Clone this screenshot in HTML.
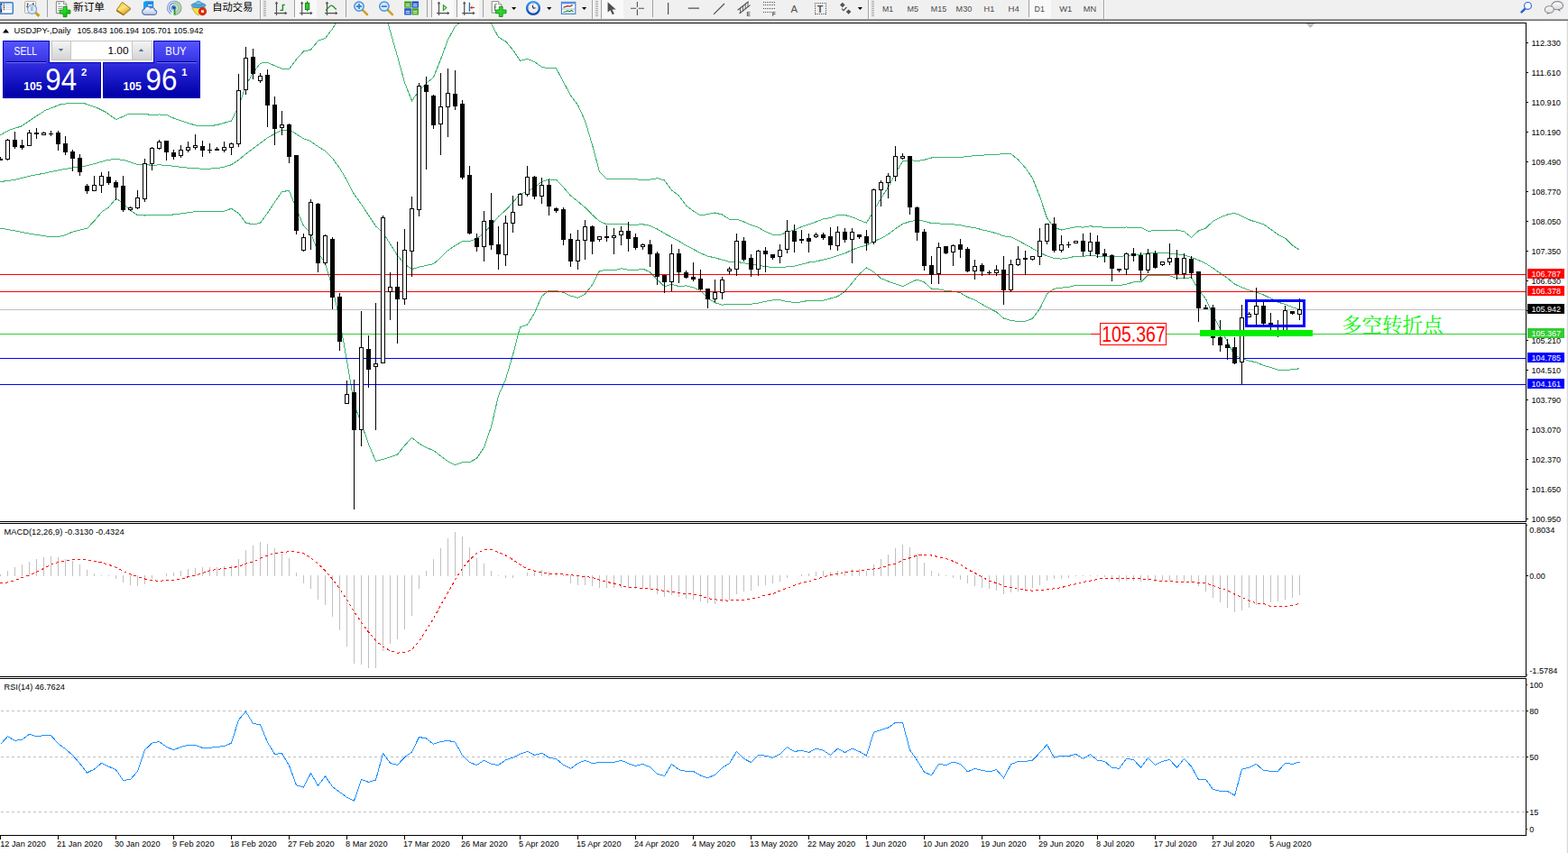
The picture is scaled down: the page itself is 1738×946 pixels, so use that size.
<!DOCTYPE html>
<html><head><meta charset="utf-8"><title>USDJPY Daily</title>
<style>
html,body{margin:0;padding:0;background:#fff}
body{width:1738px;height:946px;overflow:hidden;position:relative}
svg{position:absolute;left:0;top:0;display:block}
text{font-family:"Liberation Sans",sans-serif}
</style></head><body>
<svg width="1738" height="946" viewBox="0 0 1738 946">
<rect x="0" y="0" width="1738" height="946" fill="#fff"/>
<g shape-rendering="crispEdges">
<rect x="0" y="25" width="1692" height="1" fill="#000"/>
<rect x="1691" y="25" width="1" height="554" fill="#000"/>
<rect x="0" y="578" width="1692" height="1" fill="#000"/>
<rect x="0" y="580" width="1692" height="1" fill="#000"/>
<rect x="1691" y="580" width="1" height="171" fill="#000"/>
<rect x="0" y="750" width="1692" height="1" fill="#000"/>
<rect x="0" y="752" width="1692" height="1" fill="#000"/>
<rect x="1691" y="752" width="1" height="175" fill="#000"/>
<rect x="0" y="926" width="1692" height="1" fill="#000"/>
<rect x="1737" y="22" width="1" height="924" fill="#d9d9d9"/>
<rect x="1736" y="22" width="1" height="924" fill="#f4f4f4"/>
</g>
<g shape-rendering="crispEdges">
<rect x="0" y="343" width="1691" height="1" fill="#c0c0c0"/>
</g>
<path d="M1448 26h9v1h-9zM1449 27h7v1h-7zM1450 28h5v1h-5zM1451 29h3v1h-3zM1452 30h1v1h-1z" fill="#c0c0c0" shape-rendering="crispEdges"/>
<clipPath id="cm"><rect x="0" y="26" width="1691" height="552"/></clipPath>
<g clip-path="url(#cm)" fill="none" stroke="#3cb371" stroke-width="1" shape-rendering="crispEdges">
<polyline points="0.0,150.1 10.0,144.3 23.4,140.1 33.4,133.4 50.1,122.5 66.8,115.9 78.5,114.2 93.5,114.7 106.9,119.2 116.9,124.2 128.6,132.6 142.0,126.7 152.5,126.2 160.5,126.4 168.5,127.6 176.5,127.0 184.5,127.5 192.5,131.0 200.5,133.8 208.5,136.5 216.5,138.9 224.5,139.9 232.5,139.7 240.5,138.6 248.5,136.3 256.5,134.0 264.5,118.2 272.5,94.6 280.5,80.7 288.5,70.1 296.5,69.4 304.5,72.9 312.5,76.2 320.5,76.6 328.5,65.7 336.5,57.0 344.5,55.1 352.5,45.3 360.5,42.4 368.5,32.1 376.5,18.2 384.5,-0.3 392.5,-17.3 400.5,-16.5 408.5,-14.9 416.5,-9.6 424.5,6.6 432.5,34.5 440.5,62.4 448.5,91.6 456.5,111.8 464.5,100.7 472.5,92.3 480.5,85.8 488.5,65.9 496.5,44.0 504.5,29.3 512.5,22.5 520.5,22.4 528.5,21.2 536.5,20.1 544.5,26.3 552.5,41.3 560.5,45.8 568.5,55.4 576.5,67.3 584.5,65.4 592.5,68.5 600.5,74.3 608.5,75.9 616.5,75.9 624.5,90.9 632.5,105.9 640.5,116.4 648.5,134.0 656.5,160.6 664.5,190.5 672.5,198.2 680.5,198.2 688.5,198.5 696.5,198.9 704.5,198.8 712.5,199.4 720.5,199.1 728.5,197.7 736.5,200.0 744.5,211.0 752.5,217.0 760.5,227.9 768.5,234.0 776.5,239.0 784.5,237.5 792.5,236.0 800.5,238.0 808.5,243.1 816.5,243.1 824.5,246.0 832.5,249.6 840.5,252.3 848.5,256.8 856.5,260.2 864.5,260.7 872.5,257.3 880.5,255.1 888.5,251.6 896.5,248.9 904.5,246.0 912.5,242.9 920.5,241.5 928.5,238.6 936.5,238.5 944.5,240.6 952.5,244.2 960.5,247.2 968.5,233.6 976.5,220.1 984.5,207.6 992.5,192.3 1000.5,179.0 1008.5,177.7 1016.5,178.5 1024.5,177.3 1032.5,175.0 1040.5,174.9 1048.5,174.6 1056.5,174.6 1064.5,174.6 1072.5,173.4 1080.5,172.7 1088.5,172.2 1096.5,171.5 1104.5,171.6 1112.5,170.4 1120.5,170.6 1128.5,177.1 1136.5,186.0 1144.5,197.7 1152.5,217.8 1160.5,242.0 1168.5,252.4 1176.5,255.0 1184.5,253.3 1192.5,251.7 1200.5,252.1 1208.5,250.8 1216.5,251.6 1224.5,252.2 1232.5,252.3 1240.5,252.2 1248.5,252.0 1256.5,252.3 1264.5,252.3 1272.5,256.1 1280.5,255.9 1288.5,255.9 1296.5,255.9 1304.5,255.0 1312.5,256.7 1320.5,263.2 1328.5,256.0 1336.5,253.0 1344.5,245.4 1352.5,241.1 1360.5,238.0 1368.5,236.2 1376.5,239.7 1384.5,243.7 1392.5,246.3 1400.5,248.7 1408.5,254.3 1416.5,260.1 1424.5,264.1 1432.5,271.9 1440.5,277.4"/>
<polyline points="0.0,201.6 16.7,199.4 33.4,195.2 50.1,191.9 66.8,188.5 80.2,186.0 93.5,184.3 106.9,181.0 120.3,177.2 130.3,176.5 138.6,178.0 152.5,182.5 160.5,182.7 168.5,183.2 176.5,182.9 184.5,183.2 192.5,184.4 200.5,185.3 208.5,186.2 216.5,186.8 224.5,187.2 232.5,187.1 240.5,186.6 248.5,185.2 256.5,182.7 264.5,177.4 272.5,170.8 280.5,164.8 288.5,158.7 296.5,152.8 304.5,148.4 312.5,144.4 320.5,144.0 328.5,148.6 336.5,153.8 344.5,156.7 352.5,162.6 360.5,167.3 368.5,175.6 376.5,186.4 384.5,200.0 392.5,215.5 400.5,226.4 408.5,238.8 416.5,250.9 424.5,258.0 432.5,270.7 440.5,283.2 448.5,292.9 456.5,298.6 464.5,296.2 472.5,294.4 480.5,292.6 488.5,285.8 496.5,277.8 504.5,272.4 512.5,267.7 520.5,267.6 528.5,264.8 536.5,258.1 544.5,249.8 552.5,240.1 560.5,233.2 568.5,224.4 576.5,215.1 584.5,212.8 592.5,207.8 600.5,201.4 608.5,199.0 616.5,199.1 624.5,207.6 632.5,217.0 640.5,223.4 648.5,230.1 656.5,238.2 664.5,245.5 672.5,248.8 680.5,249.0 688.5,248.2 696.5,249.1 704.5,249.2 712.5,248.8 720.5,250.4 728.5,254.0 736.5,258.9 744.5,263.1 752.5,267.3 760.5,272.4 768.5,276.4 776.5,280.8 784.5,284.1 792.5,285.9 800.5,288.1 808.5,290.4 816.5,290.4 824.5,291.6 832.5,293.4 840.5,294.2 848.5,295.5 856.5,296.6 864.5,296.7 872.5,295.9 880.5,295.2 888.5,293.2 896.5,291.0 904.5,289.9 912.5,288.1 920.5,286.2 928.5,283.6 936.5,280.9 944.5,277.2 952.5,274.1 960.5,272.1 968.5,267.6 976.5,264.4 984.5,259.8 992.5,253.6 1000.5,248.3 1008.5,245.7 1016.5,244.3 1024.5,245.2 1032.5,247.6 1040.5,247.9 1048.5,248.6 1056.5,248.8 1064.5,249.7 1072.5,251.5 1080.5,252.7 1088.5,254.8 1096.5,256.7 1104.5,258.8 1112.5,261.8 1120.5,262.9 1128.5,266.8 1136.5,271.1 1144.5,275.5 1152.5,280.2 1160.5,283.9 1168.5,286.4 1176.5,287.1 1184.5,285.9 1192.5,284.1 1200.5,284.2 1208.5,283.6 1216.5,284.1 1224.5,284.4 1232.5,284.3 1240.5,284.5 1248.5,283.6 1256.5,282.6 1264.5,282.6 1272.5,280.6 1280.5,280.8 1288.5,280.9 1296.5,280.9 1304.5,281.8 1312.5,282.8 1320.5,285.4 1328.5,288.6 1336.5,292.2 1344.5,297.4 1352.5,303.1 1360.5,308.4 1368.5,315.1 1376.5,318.7 1384.5,321.9 1392.5,324.1 1400.5,327.0 1408.5,330.9 1416.5,335.2 1424.5,337.4 1432.5,340.8 1440.5,343.1"/>
<polyline points="0.0,253.0 16.7,256.0 33.4,259.3 53.4,262.3 66.8,262.2 73.5,260.2 80.2,257.2 96.9,253.0 103.6,246.0 113.6,234.3 120.3,230.1 128.6,220.1 135.3,224.3 143.6,232.6 152.5,238.8 160.5,239.0 168.5,238.7 176.5,238.8 184.5,238.8 192.5,237.9 200.5,236.9 208.5,235.8 216.5,234.7 224.5,234.4 232.5,234.4 240.5,234.6 248.5,234.2 256.5,231.3 264.5,236.6 272.5,247.1 280.5,248.9 288.5,247.2 296.5,236.3 304.5,224.0 312.5,212.6 320.5,211.4 328.5,231.4 336.5,250.7 344.5,258.2 352.5,279.8 360.5,292.2 368.5,319.1 376.5,354.7 384.5,400.3 392.5,448.3 400.5,469.4 408.5,492.4 416.5,511.5 424.5,509.4 432.5,506.9 440.5,504.0 448.5,494.1 456.5,485.4 464.5,491.8 472.5,496.5 480.5,499.5 488.5,505.7 496.5,511.6 504.5,515.6 512.5,512.9 520.5,512.7 528.5,508.3 536.5,496.1 544.5,473.3 552.5,438.8 560.5,420.5 568.5,393.5 576.5,362.8 584.5,360.2 592.5,347.0 600.5,328.6 608.5,322.1 616.5,322.3 624.5,324.3 632.5,328.1 640.5,330.4 648.5,326.1 656.5,315.9 664.5,300.5 672.5,299.5 680.5,299.8 688.5,297.8 696.5,299.3 704.5,299.7 712.5,298.1 720.5,301.8 728.5,310.3 736.5,317.7 744.5,315.2 752.5,317.6 760.5,316.9 768.5,318.9 776.5,322.6 784.5,330.7 792.5,335.7 800.5,338.1 808.5,337.7 816.5,337.7 824.5,337.3 832.5,337.2 840.5,336.2 848.5,334.2 856.5,332.9 864.5,332.7 872.5,334.6 880.5,335.4 888.5,334.9 896.5,333.1 904.5,333.9 912.5,333.2 920.5,331.0 928.5,328.7 936.5,323.3 944.5,313.8 952.5,304.0 960.5,296.9 968.5,301.7 976.5,308.7 984.5,312.0 992.5,314.8 1000.5,317.6 1008.5,313.7 1016.5,310.1 1024.5,313.0 1032.5,320.1 1040.5,320.9 1048.5,322.6 1056.5,323.1 1064.5,324.7 1072.5,329.6 1080.5,332.7 1088.5,337.5 1096.5,341.9 1104.5,346.0 1112.5,353.1 1120.5,355.3 1128.5,356.5 1136.5,356.1 1144.5,353.3 1152.5,342.6 1160.5,325.9 1168.5,320.3 1176.5,319.1 1184.5,318.5 1192.5,316.4 1200.5,316.4 1208.5,316.5 1216.5,316.6 1224.5,316.7 1232.5,316.3 1240.5,316.8 1248.5,315.1 1256.5,312.9 1264.5,312.9 1272.5,305.1 1280.5,305.6 1288.5,305.9 1296.5,305.8 1304.5,308.6 1312.5,308.8 1320.5,307.7 1328.5,321.3 1336.5,331.4 1344.5,349.3 1352.5,365.1 1360.5,378.9 1368.5,394.1 1376.5,397.7 1384.5,400.2 1392.5,401.8 1400.5,405.3 1408.5,407.5 1416.5,410.3 1424.5,410.8 1432.5,409.6 1440.5,408.8"/>
</g>
<g shape-rendering="crispEdges"><rect x="0" y="304" width="1691" height="1" fill="#ff0000"/><rect x="0" y="323" width="1691" height="1" fill="#ff0000"/><rect x="0" y="370" width="1691" height="1" fill="#32cd32"/><rect x="0" y="397" width="1691" height="1" fill="#0000ff"/><rect x="0" y="426" width="1691" height="1" fill="#0000ff"/></g>
<g shape-rendering="crispEdges">
<path d="M0 174h1v4h-1zM-2 176h5v2h-5zM8 154h1v24h-1zM6 155h5v22h-5zM16 146h1v19h-1zM14 155h5v8h-5zM24 155h1v11h-1zM22 161h5v3h-5zM32 144h1v18h-1zM30 147h5v15h-5zM40 142h1v12h-1zM38 147h5v2h-5zM48 146h1v4h-1zM46 147h5v3h-5zM56 145h1v6h-1zM54 148h5v1h-5zM64 145h1v22h-1zM62 147h5v13h-5zM72 151h1v21h-1zM70 159h5v10h-5zM80 166h1v24h-1zM78 168h5v8h-5zM88 171h1v24h-1zM86 175h5v16h-5zM96 204h1v11h-1zM94 206h5v6h-5zM104 195h1v17h-1zM102 205h5v7h-5zM112 191h1v23h-1zM110 195h5v11h-5zM120 190h1v15h-1zM118 196h5v7h-5zM128 200h1v22h-1zM126 202h5v6h-5zM136 195h1v40h-1zM134 206h5v27h-5zM144 229h1v5h-1zM142 230h5v3h-5zM152 211h1v21h-1zM150 219h5v12h-5zM160 176h1v48h-1zM158 181h5v40h-5zM168 163h1v26h-1zM166 164h5v18h-5zM176 155h1v11h-1zM174 157h5v8h-5zM184 156h1v22h-1zM182 156h5v13h-5zM192 166h1v11h-1zM190 169h5v5h-5zM200 161h1v14h-1zM198 166h5v7h-5zM208 157h1v12h-1zM206 163h5v4h-5zM216 149h1v17h-1zM214 161h5v3h-5zM224 156h1v18h-1zM222 162h5v5h-5zM232 159h1v11h-1zM230 166h5v1h-5zM240 163h1v4h-1zM238 165h5v2h-5zM248 157h1v12h-1zM246 163h5v4h-5zM256 158h1v14h-1zM254 159h5v5h-5zM264 82h1v81h-1zM262 100h5v60h-5zM272 52h1v53h-1zM270 64h5v36h-5zM280 54h1v34h-1zM278 63h5v19h-5zM288 81h1v11h-1zM286 84h5v6h-5zM296 77h1v64h-1zM294 83h5v34h-5zM304 107h1v54h-1zM302 116h5v27h-5zM312 123h1v27h-1zM310 138h5v4h-5zM320 137h1v44h-1zM318 138h5v36h-5zM328 172h1v88h-1zM326 172h5v84h-5zM336 259h1v20h-1zM334 263h5v15h-5zM344 221h1v56h-1zM342 224h5v37h-5zM352 225h1v77h-1zM350 226h5v66h-5zM360 260h1v34h-1zM358 261h5v31h-5zM368 263h1v80h-1zM366 265h5v65h-5zM376 325h1v64h-1zM374 329h5v50h-5zM384 422h1v26h-1zM382 437h5v11h-5zM392 421h1v144h-1zM390 435h5v42h-5zM400 345h1v150h-1zM398 385h5v92h-5zM408 372h1v58h-1zM406 387h5v23h-5zM416 336h1v141h-1zM414 403h5v4h-5zM424 239h1v164h-1zM422 241h5v162h-5zM432 302h1v53h-1zM430 318h5v6h-5zM440 268h1v113h-1zM438 318h5v14h-5zM448 254h1v84h-1zM446 277h5v55h-5zM456 218h1v89h-1zM454 231h5v48h-5zM464 92h1v148h-1zM462 95h5v138h-5zM472 85h1v103h-1zM470 94h5v8h-5zM480 105h1v38h-1zM478 106h5v33h-5zM488 81h1v91h-1zM486 118h5v20h-5zM496 76h1v76h-1zM494 103h5v16h-5zM504 78h1v44h-1zM502 104h5v14h-5zM512 111h1v88h-1zM510 115h5v82h-5zM520 184h1v76h-1zM518 194h5v65h-5zM528 259h1v20h-1zM526 264h5v10h-5zM536 234h1v56h-1zM534 245h5v29h-5zM544 214h1v63h-1zM542 244h5v28h-5zM552 251h1v48h-1zM550 271h5v11h-5zM560 239h1v56h-1zM558 247h5v36h-5zM568 217h1v41h-1zM566 235h5v13h-5zM576 214h1v14h-1zM574 215h5v13h-5zM584 184h1v34h-1zM582 196h5v20h-5zM592 195h1v26h-1zM590 196h5v22h-5zM600 197h1v29h-1zM598 205h5v13h-5zM608 199h1v40h-1zM606 205h5v24h-5zM616 230h1v6h-1zM614 231h5v3h-5zM624 230h1v42h-1zM622 232h5v34h-5zM632 259h1v37h-1zM630 265h5v25h-5zM640 255h1v44h-1zM638 266h5v24h-5zM648 244h1v44h-1zM646 251h5v16h-5zM656 250h1v32h-1zM654 251h5v17h-5zM664 262h1v6h-1zM662 262h5v4h-5zM672 250h1v18h-1zM670 262h5v2h-5zM680 253h1v29h-1zM678 261h5v3h-5zM688 251h1v21h-1zM686 256h5v5h-5zM696 246h1v33h-1zM694 256h5v9h-5zM704 259h1v18h-1zM702 263h5v12h-5zM712 270h1v7h-1zM710 271h5v3h-5zM720 266h1v30h-1zM718 271h5v11h-5zM728 279h1v37h-1zM726 281h5v26h-5zM736 305h1v20h-1zM734 305h5v8h-5zM744 271h1v52h-1zM742 281h5v32h-5zM752 276h1v38h-1zM750 281h5v21h-5zM760 300h1v9h-1zM758 302h5v6h-5zM768 291h1v21h-1zM766 307h5v3h-5zM776 299h1v23h-1zM774 309h5v12h-5zM784 320h1v22h-1zM782 320h5v12h-5zM792 310h1v25h-1zM790 324h5v8h-5zM800 307h1v25h-1zM798 310h5v15h-5zM808 296h1v8h-1zM806 298h5v3h-5zM816 259h1v47h-1zM814 267h5v32h-5zM824 263h1v27h-1zM822 267h5v21h-5zM832 282h1v25h-1zM830 286h5v13h-5zM840 277h1v29h-1zM838 278h5v21h-5zM848 274h1v28h-1zM846 278h5v4h-5zM856 282h1v6h-1zM854 282h5v4h-5zM864 271h1v21h-1zM862 277h5v8h-5zM872 244h1v37h-1zM870 256h5v21h-5zM880 249h1v31h-1zM878 256h5v12h-5zM888 255h1v15h-1zM886 265h5v2h-5zM896 259h1v21h-1zM894 264h5v4h-5zM904 258h1v6h-1zM902 260h5v3h-5zM912 258h1v8h-1zM910 260h5v4h-5zM920 252h1v25h-1zM918 262h5v10h-5zM928 251h1v27h-1zM926 257h5v16h-5zM936 253h1v16h-1zM934 257h5v9h-5zM944 253h1v39h-1zM942 257h5v9h-5zM952 260h1v5h-1zM950 260h5v3h-5zM960 255h1v23h-1zM958 262h5v8h-5zM968 209h1v62h-1zM966 210h5v59h-5zM976 200h1v29h-1zM974 202h5v9h-5zM984 192h1v28h-1zM982 195h5v8h-5zM992 162h1v39h-1zM990 173h5v23h-5zM1000 170h1v7h-1zM998 173h5v3h-5zM1008 173h1v65h-1zM1006 173h5v57h-5zM1016 229h1v38h-1zM1014 230h5v28h-5zM1024 254h1v46h-1zM1022 257h5v38h-5zM1032 284h1v31h-1zM1030 294h5v11h-5zM1040 269h1v46h-1zM1038 274h5v30h-5zM1048 273h1v9h-1zM1046 273h5v8h-5zM1056 271h1v24h-1zM1054 272h5v8h-5zM1064 265h1v21h-1zM1062 271h5v6h-5zM1072 274h1v28h-1zM1070 276h5v25h-5zM1080 288h1v22h-1zM1078 295h5v6h-5zM1088 292h1v14h-1zM1086 294h5v7h-5zM1096 300h1v5h-1zM1094 302h5v1h-5zM1104 294h1v12h-1zM1102 299h5v4h-5zM1112 284h1v54h-1zM1110 299h5v23h-5zM1120 288h1v36h-1zM1118 293h5v29h-5zM1128 273h1v22h-1zM1126 287h5v7h-5zM1136 278h1v27h-1zM1134 286h5v2h-5zM1144 284h1v5h-1zM1142 284h5v4h-5zM1152 253h1v41h-1zM1150 267h5v18h-5zM1160 248h1v23h-1zM1158 248h5v20h-5zM1168 241h1v39h-1zM1166 248h5v30h-5zM1176 261h1v19h-1zM1174 271h5v7h-5zM1184 268h1v7h-1zM1182 271h5v1h-5zM1192 267h1v3h-1zM1190 267h5v3h-5zM1200 259h1v25h-1zM1198 267h5v12h-5zM1208 258h1v26h-1zM1206 268h5v11h-5zM1216 261h1v25h-1zM1214 268h5v14h-5zM1224 276h1v15h-1zM1222 281h5v3h-5zM1232 282h1v30h-1zM1230 283h5v15h-5zM1240 298h1v4h-1zM1238 298h5v2h-5zM1248 280h1v25h-1zM1246 281h5v18h-5zM1256 275h1v15h-1zM1254 281h5v3h-5zM1264 280h1v31h-1zM1262 283h5v17h-5zM1272 276h1v27h-1zM1270 281h5v19h-5zM1280 278h1v20h-1zM1278 281h5v16h-5zM1288 290h1v5h-1zM1286 290h5v4h-5zM1296 270h1v24h-1zM1294 286h5v5h-5zM1304 277h1v33h-1zM1302 286h5v18h-5zM1312 281h1v28h-1zM1310 286h5v18h-5zM1320 284h1v25h-1zM1318 287h5v16h-5zM1328 301h1v56h-1zM1326 301h5v41h-5zM1336 338h1v5h-1zM1334 341h5v2h-5zM1344 338h1v45h-1zM1342 341h5v34h-5zM1352 355h1v35h-1zM1350 374h5v9h-5zM1360 376h1v23h-1zM1358 382h5v4h-5zM1368 374h1v30h-1zM1366 385h5v18h-5zM1376 338h1v88h-1zM1374 352h5v50h-5zM1384 346h1v6h-1zM1382 348h5v4h-5zM1392 319h1v42h-1zM1390 339h5v10h-5zM1400 334h1v26h-1zM1398 339h5v20h-5zM1408 347h1v19h-1zM1406 358h5v2h-5zM1416 355h1v19h-1zM1414 369h5v1h-5zM1424 339h1v29h-1zM1422 344h5v23h-5zM1432 345h1v4h-1zM1430 345h5v3h-5zM1440 331h1v24h-1zM1438 343h5v6h-5z" fill="#000"/>
<path d="M7 156h3v20h-3zM31 148h3v13h-3zM47 148h3v1h-3zM103 206h3v5h-3zM111 196h3v9h-3zM143 231h3v1h-3zM151 220h3v10h-3zM159 182h3v38h-3zM167 165h3v16h-3zM175 158h3v6h-3zM199 167h3v5h-3zM207 164h3v2h-3zM215 162h3v1h-3zM247 164h3v2h-3zM255 160h3v3h-3zM263 101h3v58h-3zM271 65h3v34h-3zM287 85h3v4h-3zM311 139h3v2h-3zM335 264h3v13h-3zM343 225h3v35h-3zM359 262h3v29h-3zM383 438h3v9h-3zM399 386h3v90h-3zM415 404h3v2h-3zM423 242h3v160h-3zM431 319h3v4h-3zM447 278h3v53h-3zM455 232h3v46h-3zM463 96h3v136h-3zM487 119h3v18h-3zM495 104h3v14h-3zM535 246h3v27h-3zM559 248h3v34h-3zM567 236h3v11h-3zM575 216h3v11h-3zM583 197h3v18h-3zM599 206h3v11h-3zM639 267h3v22h-3zM647 252h3v14h-3zM663 263h3v2h-3zM679 262h3v1h-3zM687 257h3v3h-3zM711 272h3v1h-3zM743 282h3v30h-3zM791 325h3v6h-3zM799 311h3v13h-3zM807 299h3v1h-3zM815 268h3v30h-3zM839 279h3v19h-3zM863 278h3v6h-3zM871 257h3v19h-3zM903 261h3v1h-3zM927 258h3v14h-3zM943 258h3v7h-3zM967 211h3v57h-3zM975 203h3v7h-3zM983 196h3v6h-3zM991 174h3v21h-3zM999 174h3v1h-3zM1039 275h3v28h-3zM1055 273h3v6h-3zM1079 296h3v4h-3zM1103 300h3v2h-3zM1119 294h3v27h-3zM1127 288h3v5h-3zM1143 285h3v2h-3zM1151 268h3v16h-3zM1159 249h3v18h-3zM1175 272h3v5h-3zM1191 268h3v1h-3zM1207 269h3v9h-3zM1247 282h3v16h-3zM1271 282h3v17h-3zM1287 291h3v2h-3zM1295 287h3v3h-3zM1311 287h3v16h-3zM1375 353h3v48h-3zM1383 349h3v2h-3zM1391 340h3v8h-3zM1423 345h3v21h-3zM1439 344h3v4h-3z" fill="#fff"/>
</g>
<g shape-rendering="crispEdges">
<rect x="1330" y="366" width="125" height="7" fill="#00ee00"/>
<path d="M1380 332h67v31h-67zM1383 335v25h61v-25z" fill="#0000ff" fill-rule="evenodd"/>
<rect x="1209" y="370" width="10" height="1" fill="#ff0000"/>
<rect x="1219" y="358" width="74" height="25" fill="#ff0000"/>
<rect x="1220" y="359" width="72" height="23" fill="#fff"/>
</g>
<text x="1221.2" y="379.1" font-size="23.3" fill="#ff0000" textLength="70.6" lengthAdjust="spacingAndGlyphs">105.367</text>
<text x="1487" y="368" font-size="22" fill="#0cf40c" textLength="112.5" lengthAdjust="spacingAndGlyphs" style="font-family:'Liberation Serif','Noto Serif CJK SC',serif">多空转折点</text>
<g shape-rendering="crispEdges">
<rect x="1692" y="47" width="2" height="1" fill="#000"/>
<rect x="1692" y="80" width="2" height="1" fill="#000"/>
<rect x="1692" y="113" width="2" height="1" fill="#000"/>
<rect x="1692" y="146" width="2" height="1" fill="#000"/>
<rect x="1692" y="179" width="2" height="1" fill="#000"/>
<rect x="1692" y="212" width="2" height="1" fill="#000"/>
<rect x="1692" y="245" width="2" height="1" fill="#000"/>
<rect x="1692" y="278" width="2" height="1" fill="#000"/>
<rect x="1692" y="311" width="2" height="1" fill="#000"/>
<rect x="1692" y="344" width="2" height="1" fill="#000"/>
<rect x="1692" y="377" width="2" height="1" fill="#000"/>
<rect x="1692" y="410" width="2" height="1" fill="#000"/>
<rect x="1692" y="443" width="2" height="1" fill="#000"/>
<rect x="1692" y="476" width="2" height="1" fill="#000"/>
<rect x="1692" y="509" width="2" height="1" fill="#000"/>
<rect x="1692" y="542" width="2" height="1" fill="#000"/>
<rect x="1692" y="575" width="2" height="1" fill="#000"/>
</g>
<text x="1697.4" y="51" font-size="9.9" fill="#000" textLength="32.6" lengthAdjust="spacingAndGlyphs">112.330</text>
<text x="1697.4" y="84" font-size="9.9" fill="#000" textLength="32.6" lengthAdjust="spacingAndGlyphs">111.610</text>
<text x="1697.4" y="117" font-size="9.9" fill="#000" textLength="32.6" lengthAdjust="spacingAndGlyphs">110.910</text>
<text x="1697.4" y="150" font-size="9.9" fill="#000" textLength="32.6" lengthAdjust="spacingAndGlyphs">110.190</text>
<text x="1697.4" y="183" font-size="9.9" fill="#000" textLength="32.6" lengthAdjust="spacingAndGlyphs">109.490</text>
<text x="1697.4" y="216" font-size="9.9" fill="#000" textLength="32.6" lengthAdjust="spacingAndGlyphs">108.770</text>
<text x="1697.4" y="249" font-size="9.9" fill="#000" textLength="32.6" lengthAdjust="spacingAndGlyphs">108.050</text>
<text x="1697.4" y="282" font-size="9.9" fill="#000" textLength="32.6" lengthAdjust="spacingAndGlyphs">107.350</text>
<text x="1697.4" y="315" font-size="9.9" fill="#000" textLength="32.6" lengthAdjust="spacingAndGlyphs">106.630</text>
<text x="1697.4" y="381" font-size="9.9" fill="#000" textLength="32.6" lengthAdjust="spacingAndGlyphs">105.210</text>
<text x="1697.4" y="414" font-size="9.9" fill="#000" textLength="32.6" lengthAdjust="spacingAndGlyphs">104.510</text>
<text x="1697.4" y="447" font-size="9.9" fill="#000" textLength="32.6" lengthAdjust="spacingAndGlyphs">103.790</text>
<text x="1697.4" y="480" font-size="9.9" fill="#000" textLength="32.6" lengthAdjust="spacingAndGlyphs">103.070</text>
<text x="1697.4" y="513" font-size="9.9" fill="#000" textLength="32.6" lengthAdjust="spacingAndGlyphs">102.370</text>
<text x="1697.4" y="546" font-size="9.9" fill="#000" textLength="32.6" lengthAdjust="spacingAndGlyphs">101.650</text>
<text x="1697.4" y="579" font-size="9.9" fill="#000" textLength="32.6" lengthAdjust="spacingAndGlyphs">100.950</text>
<rect x="1693" y="298" width="41" height="11" fill="#ff0000" shape-rendering="crispEdges"/>
<text x="1697.4" y="307" font-size="9.9" fill="#fff" textLength="32.6" lengthAdjust="spacingAndGlyphs">106.787</text>
<rect x="1693" y="317" width="41" height="11" fill="#ff0000" shape-rendering="crispEdges"/>
<text x="1697.4" y="326" font-size="9.9" fill="#fff" textLength="32.6" lengthAdjust="spacingAndGlyphs">106.378</text>
<rect x="1693" y="337" width="41" height="11" fill="#000" shape-rendering="crispEdges"/>
<text x="1697.4" y="346" font-size="9.9" fill="#fff" textLength="32.6" lengthAdjust="spacingAndGlyphs">105.942</text>
<rect x="1693" y="364" width="41" height="11" fill="#32cd32" shape-rendering="crispEdges"/>
<text x="1697.4" y="373" font-size="9.9" fill="#fff" textLength="32.6" lengthAdjust="spacingAndGlyphs">105.367</text>
<rect x="1693" y="391" width="41" height="11" fill="#0000ff" shape-rendering="crispEdges"/>
<text x="1697.4" y="400" font-size="9.9" fill="#fff" textLength="32.6" lengthAdjust="spacingAndGlyphs">104.785</text>
<rect x="1693" y="420" width="41" height="11" fill="#0000ff" shape-rendering="crispEdges"/>
<text x="1697.4" y="429" font-size="9.9" fill="#fff" textLength="32.6" lengthAdjust="spacingAndGlyphs">104.161</text>
<path d="M3 36.5L6.5 32L10 36.5z" fill="#000"/>
<text x="15.5" y="36.7" font-size="9.6" fill="#000" textLength="63" lengthAdjust="spacingAndGlyphs">USDJPY-,Daily</text>
<text x="85.6" y="36.7" font-size="9.6" fill="#000" textLength="139.7" lengthAdjust="spacingAndGlyphs">105.843 106.194 105.701 105.942</text>
<defs>
<linearGradient id="gb" x1="0" y1="0" x2="0" y2="1"><stop offset="0" stop-color="#5656ff"/><stop offset="0.31" stop-color="#3e3ae8"/><stop offset="0.47" stop-color="#2a26d8"/><stop offset="0.8" stop-color="#0c0cb8"/><stop offset="1" stop-color="#0000a6"/></linearGradient>
<linearGradient id="gs" x1="0" y1="0" x2="0" y2="1"><stop offset="0" stop-color="#f4f4f4"/><stop offset="1" stop-color="#d4d4d4"/></linearGradient>
</defs>
<g shape-rendering="crispEdges">
<path d="M3 45h52v24h57v40h-109z" fill="url(#gb)"/>
<path d="M170 45h52v64h-108v-40h56z" fill="url(#gb)"/>
<path d="M3.5 45.5h51v24h57v39h-108z" fill="none" stroke="#0000b4" stroke-width="1"/>
<path d="M170.5 45.5h51v63h-107v-39h56z" fill="none" stroke="#0000b4" stroke-width="1"/>
<rect x="7" y="68" width="44" height="1" fill="#000080"/>
<rect x="7" y="69" width="44" height="1" fill="#6e6eff"/>
<rect x="174" y="68" width="44" height="1" fill="#000080"/>
<rect x="174" y="69" width="44" height="1" fill="#6e6eff"/>
<rect x="57" y="45" width="112" height="22" fill="#c4c4c4"/>
<rect x="58" y="46" width="110" height="20" fill="#fff"/>
<rect x="58" y="46" width="20" height="20" fill="url(#gs)"/>
<rect x="147" y="46" width="21" height="20" fill="url(#gs)"/>
<rect x="78" y="46" width="1" height="20" fill="#c4c4c4"/>
<rect x="146" y="46" width="1" height="20" fill="#c4c4c4"/>
</g>
<path d="M64.8 54h5.4l-2.7 3z" fill="#5a6a9c"/>
<path d="M153.8 57h5.4l-2.7 -3z" fill="#5a6a9c"/>
<text x="28.3" y="60.6" font-size="12.2" fill="#fff" text-anchor="middle" textLength="25.5" lengthAdjust="spacingAndGlyphs">SELL</text>
<text x="195" y="60.6" font-size="12.2" fill="#fff" text-anchor="middle" textLength="23.3" lengthAdjust="spacingAndGlyphs">BUY</text>
<text x="142.5" y="59.7" font-size="11.6" fill="#000" text-anchor="end" textLength="23" lengthAdjust="spacingAndGlyphs">1.00</text>
<text x="26.2" y="100.3" font-size="12.6" fill="#fff" font-weight="bold" textLength="20.4" lengthAdjust="spacingAndGlyphs">105</text>
<text x="136.4" y="100.3" font-size="12.6" fill="#fff" font-weight="bold" textLength="20.4" lengthAdjust="spacingAndGlyphs">105</text>
<text x="50.3" y="100.4" font-size="35.5" fill="#fff" textLength="34.8" lengthAdjust="spacingAndGlyphs">94</text>
<text x="161.6" y="100.4" font-size="35.5" fill="#fff" textLength="34.8" lengthAdjust="spacingAndGlyphs">96</text>
<text x="90.0" y="84" font-size="11.2" fill="#fff" font-weight="bold">2</text>
<text x="201.3" y="84" font-size="11.2" fill="#fff" font-weight="bold">1</text>
<g shape-rendering="crispEdges">
<path d="M0 637h1v2h-1zM8 633h1v6h-1zM16 629h1v10h-1zM24 626h1v13h-1zM32 623h1v16h-1zM40 620h1v19h-1zM48 618h1v21h-1zM56 617h1v22h-1zM64 618h1v21h-1zM72 620h1v19h-1zM80 622h1v17h-1zM88 626h1v13h-1zM96 632h1v7h-1zM104 636h1v3h-1zM112 638h1v1h-1zM120 638h1v1h-1zM128 638h1v4h-1zM136 638h1v8h-1zM144 638h1v11h-1zM152 638h1v12h-1zM160 638h1v10h-1zM168 638h1v4h-1zM184 636h1v3h-1zM192 635h1v4h-1zM200 633h1v6h-1zM208 631h1v8h-1zM216 630h1v9h-1zM224 629h1v10h-1zM232 629h1v10h-1zM240 629h1v10h-1zM248 628h1v11h-1zM256 627h1v12h-1zM264 620h1v19h-1zM272 610h1v29h-1zM280 605h1v34h-1zM288 601h1v38h-1zM296 603h1v36h-1zM304 608h1v31h-1zM312 612h1v27h-1zM320 619h1v20h-1zM328 635h1v4h-1zM336 638h1v9h-1zM344 638h1v15h-1zM352 638h1v27h-1zM360 638h1v33h-1zM368 638h1v46h-1zM376 638h1v61h-1zM384 638h1v79h-1zM392 638h1v98h-1zM400 638h1v99h-1zM408 638h1v103h-1zM416 638h1v103h-1zM424 638h1v84h-1zM432 638h1v76h-1zM440 638h1v71h-1zM448 638h1v60h-1zM456 638h1v45h-1zM464 638h1v15h-1zM472 633h1v6h-1zM480 620h1v19h-1zM488 608h1v31h-1zM496 597h1v42h-1zM504 590h1v49h-1zM512 595h1v44h-1zM520 607h1v32h-1zM528 619h1v20h-1zM536 625h1v14h-1zM544 633h1v6h-1zM552 638h1v1h-1zM560 638h1v3h-1zM568 638h1v3h-1zM584 635h1v4h-1zM592 633h1v6h-1zM600 632h1v7h-1zM608 634h1v5h-1zM616 635h1v4h-1zM624 637h1v2h-1zM632 638h1v9h-1zM640 638h1v11h-1zM648 638h1v11h-1zM656 638h1v12h-1zM664 638h1v14h-1zM672 638h1v14h-1zM680 638h1v14h-1zM688 638h1v14h-1zM696 638h1v14h-1zM704 638h1v15h-1zM712 638h1v15h-1zM720 638h1v15h-1zM728 638h1v21h-1zM736 638h1v24h-1zM744 638h1v22h-1zM752 638h1v24h-1zM760 638h1v26h-1zM768 638h1v27h-1zM776 638h1v29h-1zM784 638h1v31h-1zM792 638h1v32h-1zM800 638h1v30h-1zM808 638h1v28h-1zM816 638h1v21h-1zM824 638h1v18h-1zM832 638h1v17h-1zM840 638h1v12h-1zM848 638h1v11h-1zM856 638h1v9h-1zM864 638h1v7h-1zM872 638h1v3h-1zM888 637h1v2h-1zM896 636h1v3h-1zM904 634h1v5h-1zM912 633h1v6h-1zM920 634h1v5h-1zM928 633h1v6h-1zM936 633h1v6h-1zM944 631h1v8h-1zM952 631h1v8h-1zM960 633h1v6h-1zM968 626h1v13h-1zM976 620h1v19h-1zM984 615h1v24h-1zM992 608h1v31h-1zM1000 604h1v35h-1zM1008 607h1v32h-1zM1016 614h1v25h-1zM1024 624h1v15h-1zM1032 633h1v6h-1zM1040 636h1v3h-1zM1048 638h1v1h-1zM1056 638h1v3h-1zM1064 638h1v5h-1zM1072 638h1v9h-1zM1080 638h1v12h-1zM1088 638h1v14h-1zM1096 638h1v15h-1zM1104 638h1v17h-1zM1112 638h1v21h-1zM1120 638h1v19h-1zM1128 638h1v18h-1zM1136 638h1v17h-1zM1144 638h1v14h-1zM1152 638h1v11h-1zM1160 638h1v6h-1zM1168 638h1v4h-1zM1176 638h1v4h-1zM1184 638h1v3h-1zM1192 638h1v1h-1zM1200 638h1v1h-1zM1208 638h1v1h-1zM1216 638h1v1h-1zM1224 638h1v2h-1zM1232 638h1v4h-1zM1240 638h1v7h-1zM1248 638h1v6h-1zM1256 638h1v6h-1zM1264 638h1v7h-1zM1272 638h1v6h-1zM1280 638h1v7h-1zM1288 638h1v6h-1zM1296 638h1v6h-1zM1304 638h1v7h-1zM1312 638h1v7h-1zM1320 638h1v8h-1zM1328 638h1v12h-1zM1336 638h1v18h-1zM1344 638h1v25h-1zM1352 638h1v30h-1zM1360 638h1v36h-1zM1368 638h1v41h-1zM1376 638h1v39h-1zM1384 638h1v36h-1zM1392 638h1v33h-1zM1400 638h1v32h-1zM1408 638h1v30h-1zM1416 638h1v29h-1zM1424 638h1v27h-1zM1432 638h1v25h-1zM1440 638h1v22h-1z" fill="#c0c0c0"/>
<polyline points="0.5,647.0 8.5,645.9 16.5,643.6 24.5,640.6 32.5,637.8 40.5,634.4 48.5,630.5 56.5,626.3 64.5,623.6 72.5,621.7 80.5,620.6 88.5,620.6 96.5,621.0 104.5,622.2 112.5,624.0 120.5,626.3 128.5,629.1 136.5,633.2 144.5,636.7 152.5,639.7 160.5,642.0 168.5,643.6 176.5,644.3 184.5,643.6 192.5,643.6 200.5,642.4 208.5,639.7 216.5,638.3 224.5,635.5 232.5,632.8 240.5,631.4 248.5,630.5 256.5,629.8 264.5,628.2 272.5,625.2 280.5,622.9 288.5,619.4 296.5,616.0 304.5,613.7 312.5,612.5 320.5,611.8 328.5,611.8 336.5,613.7 344.5,618.7 352.5,625.2 360.5,633.2 368.5,642.4 376.5,652.8 384.5,665.5 392.5,678.1 400.5,690.3 408.5,701.1 416.5,710.3 424.5,717.2 432.5,721.8 440.5,724.1 448.5,723.7 456.5,720.7 464.5,711.0 472.5,698.8 480.5,686.2 488.5,671.2 496.5,657.4 504.5,643.1 512.5,630.5 520.5,620.6 528.5,613.7 536.5,609.8 544.5,609.5 552.5,612.5 560.5,616.0 568.5,620.6 576.5,626.3 584.5,630.9 592.5,633.2 600.5,635.1 608.5,636.2 616.5,636.7 624.5,636.7 632.5,637.8 640.5,638.5 648.5,639.4 656.5,640.6 664.5,643.1 672.5,645.4 680.5,647.0 688.5,649.3 696.5,651.2 704.5,651.6 712.5,652.3 720.5,653.3 728.5,653.9 736.5,655.6 744.5,656.3 752.5,657.4 760.5,658.6 768.5,659.2 776.5,660.4 784.5,663.6 792.5,664.8 800.5,665.9 808.5,666.1 816.5,665.5 824.5,665.5 832.5,664.3 840.5,662.5 848.5,659.7 856.5,658.6 864.5,655.1 872.5,652.1 880.5,649.3 888.5,646.6 896.5,644.7 904.5,642.4 912.5,640.1 920.5,637.8 928.5,636.7 936.5,635.1 944.5,633.2 952.5,633.2 960.5,632.1 968.5,630.9 976.5,629.8 984.5,627.0 992.5,625.2 1000.5,621.3 1008.5,618.7 1016.5,616.0 1024.5,615.3 1032.5,616.0 1040.5,617.6 1048.5,619.4 1056.5,622.4 1064.5,625.9 1072.5,631.4 1080.5,635.5 1088.5,639.7 1096.5,644.3 1104.5,646.6 1112.5,649.8 1120.5,651.6 1128.5,653.3 1136.5,654.4 1144.5,655.1 1152.5,654.4 1160.5,653.9 1168.5,652.8 1176.5,651.6 1184.5,649.3 1192.5,647.7 1200.5,645.4 1208.5,644.1 1216.5,642.4 1224.5,641.3 1232.5,641.3 1240.5,641.3 1248.5,641.3 1256.5,641.3 1264.5,642.0 1272.5,642.4 1280.5,643.6 1288.5,644.3 1296.5,644.3 1304.5,645.4 1312.5,645.4 1320.5,645.4 1328.5,646.4 1336.5,647.0 1344.5,649.3 1352.5,652.8 1360.5,654.6 1368.5,659.0 1376.5,662.5 1384.5,666.1 1392.5,668.9 1400.5,669.6 1408.5,672.4 1416.5,672.4 1424.5,672.4 1432.5,671.2 1440.5,669.4" fill="none" stroke="#ff0000" stroke-width="1" stroke-dasharray="3 3"/>
<rect x="1692" y="582" width="1" height="1" fill="#000"/>
<rect x="1692" y="638" width="2" height="1" fill="#000"/>
<rect x="1692" y="748" width="1" height="1" fill="#000"/>
</g>
<text x="4.6" y="593" font-size="9.8" fill="#000" textLength="133" lengthAdjust="spacingAndGlyphs">MACD(12,26,9) -0.3130 -0.4324</text>
<text x="1695.3" y="591" font-size="9.9" fill="#000" textLength="28" lengthAdjust="spacingAndGlyphs">0.8034</text>
<text x="1695.3" y="642" font-size="9.9" fill="#000" textLength="17.5" lengthAdjust="spacingAndGlyphs">0.00</text>
<text x="1695.3" y="747" font-size="9.9" fill="#000" textLength="31" lengthAdjust="spacingAndGlyphs">-1.5784</text>
<g shape-rendering="crispEdges">
<line x1="1" y1="788.5" x2="1691" y2="788.5" stroke="#c0c0c0" stroke-width="1" stroke-dasharray="3 3"/>
<line x1="1" y1="839.5" x2="1691" y2="839.5" stroke="#c0c0c0" stroke-width="1" stroke-dasharray="3 3"/>
<line x1="1" y1="900.5" x2="1691" y2="900.5" stroke="#c0c0c0" stroke-width="1" stroke-dasharray="3 3"/>
<polyline points="0.5,825.5 8.5,816.7 16.5,821.3 24.5,820.2 32.5,814.4 40.5,816.7 48.5,815.6 56.5,815.6 64.5,824.8 72.5,830.6 80.5,837.5 88.5,846.7 96.5,857.0 104.5,853.1 112.5,846.2 120.5,850.1 128.5,853.6 136.5,865.5 144.5,864.4 152.5,855.4 160.5,831.7 168.5,824.1 176.5,822.5 184.5,828.3 192.5,831.7 200.5,828.3 208.5,826.4 216.5,826.4 224.5,829.4 232.5,829.4 240.5,828.3 248.5,827.6 256.5,824.1 264.5,798.3 272.5,789.1 280.5,802.5 288.5,803.6 296.5,823.2 304.5,836.3 312.5,835.6 320.5,849.0 328.5,870.8 336.5,873.1 344.5,857.5 352.5,871.3 360.5,860.9 368.5,872.4 376.5,878.4 384.5,884.2 392.5,888.1 400.5,864.4 408.5,867.4 416.5,865.1 424.5,835.6 432.5,846.2 440.5,848.5 448.5,839.8 456.5,834.0 464.5,817.4 472.5,819.0 480.5,825.3 488.5,822.5 496.5,821.3 504.5,823.2 512.5,837.5 520.5,845.5 528.5,848.5 536.5,843.2 544.5,847.4 552.5,848.5 560.5,842.8 568.5,840.2 576.5,836.3 584.5,833.3 592.5,837.5 600.5,835.2 608.5,840.2 616.5,841.6 624.5,848.3 632.5,852.4 640.5,846.7 648.5,843.2 656.5,846.7 664.5,845.5 672.5,845.5 680.5,845.5 688.5,843.2 696.5,846.7 704.5,849.4 712.5,847.4 720.5,850.8 728.5,858.2 736.5,860.5 744.5,847.4 752.5,853.6 760.5,855.4 768.5,855.4 776.5,860.0 784.5,862.8 792.5,859.3 800.5,851.3 808.5,846.7 816.5,833.3 824.5,841.4 832.5,845.5 840.5,837.5 848.5,838.1 856.5,840.4 864.5,836.3 872.5,828.7 880.5,833.5 888.5,832.2 896.5,834.5 904.5,830.1 912.5,832.2 920.5,837.5 928.5,830.1 936.5,834.5 944.5,830.1 952.5,833.5 960.5,838.1 968.5,812.1 976.5,809.4 984.5,807.1 992.5,801.3 1000.5,801.3 1008.5,831.7 1016.5,843.2 1024.5,856.3 1032.5,859.8 1040.5,847.4 1048.5,848.5 1056.5,845.1 1064.5,847.4 1072.5,855.9 1080.5,852.4 1088.5,854.3 1096.5,855.9 1104.5,853.6 1112.5,862.8 1120.5,847.8 1128.5,844.4 1136.5,844.4 1144.5,843.2 1152.5,834.7 1160.5,825.9 1168.5,840.2 1176.5,838.1 1184.5,838.6 1192.5,836.3 1200.5,841.4 1208.5,836.8 1216.5,843.2 1224.5,844.4 1232.5,851.3 1240.5,852.4 1248.5,841.4 1256.5,842.5 1264.5,851.3 1272.5,840.4 1280.5,848.3 1288.5,844.4 1296.5,842.5 1304.5,851.3 1312.5,841.4 1320.5,850.1 1328.5,864.4 1336.5,864.4 1344.5,875.4 1352.5,877.3 1360.5,877.3 1368.5,882.3 1376.5,853.1 1384.5,851.3 1392.5,847.4 1400.5,854.3 1408.5,855.4 1416.5,855.4 1424.5,846.2 1432.5,847.4 1440.5,845.1" fill="none" stroke="#1e90ff" stroke-width="1"/>
<rect x="1692" y="759" width="1" height="1" fill="#000"/>
<rect x="1692" y="788" width="2" height="1" fill="#000"/>
<rect x="1692" y="839" width="2" height="1" fill="#000"/>
<rect x="1692" y="900" width="2" height="1" fill="#000"/>
<rect x="1692" y="919" width="1" height="1" fill="#000"/>
</g>
<text x="4.6" y="765" font-size="9.8" fill="#000" textLength="67.3" lengthAdjust="spacingAndGlyphs">RSI(14) 46.7624</text>
<text x="1695.3" y="763" font-size="9.9" fill="#000" textLength="15.1" lengthAdjust="spacingAndGlyphs">100</text>
<text x="1695.3" y="792" font-size="9.9" fill="#000" textLength="10.1" lengthAdjust="spacingAndGlyphs">80</text>
<text x="1695.3" y="843" font-size="9.9" fill="#000" textLength="10.1" lengthAdjust="spacingAndGlyphs">50</text>
<text x="1695.3" y="904" font-size="9.9" fill="#000" textLength="10.1" lengthAdjust="spacingAndGlyphs">15</text>
<text x="1695.3" y="923" font-size="9.9" fill="#000" textLength="5.0" lengthAdjust="spacingAndGlyphs">0</text>
<g shape-rendering="crispEdges">
<rect x="0" y="927" width="1" height="4" fill="#000"/>
<rect x="64" y="927" width="1" height="4" fill="#000"/>
<rect x="128" y="927" width="1" height="4" fill="#000"/>
<rect x="192" y="927" width="1" height="4" fill="#000"/>
<rect x="256" y="927" width="1" height="4" fill="#000"/>
<rect x="320" y="927" width="1" height="4" fill="#000"/>
<rect x="384" y="927" width="1" height="4" fill="#000"/>
<rect x="448" y="927" width="1" height="4" fill="#000"/>
<rect x="512" y="927" width="1" height="4" fill="#000"/>
<rect x="576" y="927" width="1" height="4" fill="#000"/>
<rect x="640" y="927" width="1" height="4" fill="#000"/>
<rect x="704" y="927" width="1" height="4" fill="#000"/>
<rect x="768" y="927" width="1" height="4" fill="#000"/>
<rect x="832" y="927" width="1" height="4" fill="#000"/>
<rect x="896" y="927" width="1" height="4" fill="#000"/>
<rect x="960" y="927" width="1" height="4" fill="#000"/>
<rect x="1024" y="927" width="1" height="4" fill="#000"/>
<rect x="1088" y="927" width="1" height="4" fill="#000"/>
<rect x="1152" y="927" width="1" height="4" fill="#000"/>
<rect x="1216" y="927" width="1" height="4" fill="#000"/>
<rect x="1280" y="927" width="1" height="4" fill="#000"/>
<rect x="1344" y="927" width="1" height="4" fill="#000"/>
<rect x="1408" y="927" width="1" height="4" fill="#000"/>
</g>
<text x="0.2" y="939.2" font-size="9.9" fill="#000" textLength="50.6" lengthAdjust="spacingAndGlyphs">12 Jan 2020</text>
<text x="63.0" y="939.2" font-size="9.9" fill="#000" textLength="50.6" lengthAdjust="spacingAndGlyphs">21 Jan 2020</text>
<text x="127.0" y="939.2" font-size="9.9" fill="#000" textLength="50.6" lengthAdjust="spacingAndGlyphs">30 Jan 2020</text>
<text x="191.0" y="939.2" font-size="9.9" fill="#000" textLength="46.5" lengthAdjust="spacingAndGlyphs">9 Feb 2020</text>
<text x="255.0" y="939.2" font-size="9.9" fill="#000" textLength="51.7" lengthAdjust="spacingAndGlyphs">18 Feb 2020</text>
<text x="319.0" y="939.2" font-size="9.9" fill="#000" textLength="51.7" lengthAdjust="spacingAndGlyphs">27 Feb 2020</text>
<text x="383.0" y="939.2" font-size="9.9" fill="#000" textLength="46.5" lengthAdjust="spacingAndGlyphs">8 Mar 2020</text>
<text x="447.0" y="939.2" font-size="9.9" fill="#000" textLength="51.7" lengthAdjust="spacingAndGlyphs">17 Mar 2020</text>
<text x="511.0" y="939.2" font-size="9.9" fill="#000" textLength="51.7" lengthAdjust="spacingAndGlyphs">26 Mar 2020</text>
<text x="575.0" y="939.2" font-size="9.9" fill="#000" textLength="44.5" lengthAdjust="spacingAndGlyphs">5 Apr 2020</text>
<text x="639.0" y="939.2" font-size="9.9" fill="#000" textLength="49.6" lengthAdjust="spacingAndGlyphs">15 Apr 2020</text>
<text x="703.0" y="939.2" font-size="9.9" fill="#000" textLength="49.6" lengthAdjust="spacingAndGlyphs">24 Apr 2020</text>
<text x="767.0" y="939.2" font-size="9.9" fill="#000" textLength="48.1" lengthAdjust="spacingAndGlyphs">4 May 2020</text>
<text x="831.0" y="939.2" font-size="9.9" fill="#000" textLength="53.2" lengthAdjust="spacingAndGlyphs">13 May 2020</text>
<text x="895.0" y="939.2" font-size="9.9" fill="#000" textLength="53.2" lengthAdjust="spacingAndGlyphs">22 May 2020</text>
<text x="959.0" y="939.2" font-size="9.9" fill="#000" textLength="45.5" lengthAdjust="spacingAndGlyphs">1 Jun 2020</text>
<text x="1023.0" y="939.2" font-size="9.9" fill="#000" textLength="50.6" lengthAdjust="spacingAndGlyphs">10 Jun 2020</text>
<text x="1087.0" y="939.2" font-size="9.9" fill="#000" textLength="50.6" lengthAdjust="spacingAndGlyphs">19 Jun 2020</text>
<text x="1151.0" y="939.2" font-size="9.9" fill="#000" textLength="50.6" lengthAdjust="spacingAndGlyphs">29 Jun 2020</text>
<text x="1215.0" y="939.2" font-size="9.9" fill="#000" textLength="42.5" lengthAdjust="spacingAndGlyphs">8 Jul 2020</text>
<text x="1279.0" y="939.2" font-size="9.9" fill="#000" textLength="47.6" lengthAdjust="spacingAndGlyphs">17 Jul 2020</text>
<text x="1343.0" y="939.2" font-size="9.9" fill="#000" textLength="47.6" lengthAdjust="spacingAndGlyphs">27 Jul 2020</text>
<text x="1407.0" y="939.2" font-size="9.9" fill="#000" textLength="46.6" lengthAdjust="spacingAndGlyphs">5 Aug 2020</text>
<g>
<rect x="0" y="0" width="1738" height="21" fill="#f0f0f0"/>
<rect x="0" y="21" width="1738" height="1" fill="#a4a4a4"/>
<rect x="0" y="22" width="1738" height="1" fill="#6a6a6a"/>
<rect x="327" y="0" width="24" height="20" fill="#f9f9f9"/>
<rect x="479" y="0" width="24" height="20" fill="#f9f9f9"/>
<rect x="507" y="0" width="24" height="20" fill="#f9f9f9"/>
<rect x="667" y="0" width="24" height="20" fill="#f9f9f9"/>
<rect x="1141" y="0" width="24" height="20" fill="#f9f9f9"/>
<path d="M52 0h1v19h-1zM326 0h1v19h-1zM383 0h1v19h-1zM473 0h1v19h-1zM478 0h1v19h-1zM506 0h1v19h-1zM535 0h1v19h-1zM723 0h1v19h-1zM1140 0h1v19h-1z" fill="#a0a0a0" shape-rendering="crispEdges"/>
<path d="M288 0h1v21h-1zM656 0h1v21h-1zM666 0h1v21h-1zM962 0h1v21h-1zM1223 0h1v21h-1z" fill="#a0a0a0" shape-rendering="crispEdges"/>
<path d="M288 0m1 0h1v21h-1zM656 0m1 0h1v21h-1zM666 0m1 0h1v21h-1zM962 0m1 0h1v21h-1zM1223 0m1 0h1v21h-1z" fill="#ffffff" shape-rendering="crispEdges"/>
<path d="M292 1h3v1h-3zM292 3h3v1h-3zM292 5h3v1h-3zM292 7h3v1h-3zM292 9h3v1h-3zM292 11h3v1h-3zM292 13h3v1h-3zM292 15h3v1h-3zM292 17h3v1h-3zM660 1h3v1h-3zM660 3h3v1h-3zM660 5h3v1h-3zM660 7h3v1h-3zM660 9h3v1h-3zM660 11h3v1h-3zM660 13h3v1h-3zM660 15h3v1h-3zM660 17h3v1h-3zM966 1h3v1h-3zM966 3h3v1h-3zM966 5h3v1h-3zM966 7h3v1h-3zM966 9h3v1h-3zM966 11h3v1h-3zM966 13h3v1h-3zM966 15h3v1h-3zM966 17h3v1h-3z" fill="#a8a8a8" shape-rendering="crispEdges"/>
<defs><linearGradient id="lbar" x1="0" y1="0" x2="1" y2="0"><stop offset="0" stop-color="#2a6cc0"/><stop offset="1" stop-color="#9cc8f4"/></linearGradient></defs>
<g><rect x="-2" y="2.7" width="16.3" height="12.6" rx="1.2" fill="#fff" stroke="#3a7cc8" stroke-width="1.5"/><rect x="0" y="3.4" width="2.6" height="11.2" fill="url(#lbar)"/><rect x="0.9" y="9.8" width="1" height="4" fill="#303848"/><rect x="1" y="3.9" width="1.2" height="1.2" fill="#101010"/><rect x="3.8" y="3.9" width="1.3" height="1.3" fill="#f01818"/><rect x="3.8" y="5.9" width="1.3" height="1.3" fill="#203018"/><rect x="3.8" y="7.9" width="1.3" height="1.3" fill="#203018"/><rect x="3.8" y="9.9" width="1.3" height="1.3" fill="#f01818"/><path d="M5.8 4.55h7.4M5.8 6.55h7.4M5.8 8.55h7.4M5.8 10.55h7.4" stroke="#c4d8f8" stroke-width="0.9"/></g>
<g><rect x="27.6" y="1.6" width="12" height="13" rx="0.8" fill="#fdfdfb" stroke="#b4ac94" stroke-width="1"/><path d="M30.4 3.4v6.4M29.2 7.4h1.2M30.4 4.4h1.4M36.6 3.2v5M36.6 4.2h1.4M35.2 7h1.4" stroke="#404040" stroke-width="0.9" fill="none"/><circle cx="35.5" cy="10.3" r="5" fill="#dfeaf4" fill-opacity="0.9" stroke="#7aa6e2" stroke-width="1.2"/><path d="M34 7.4h2.6v5h-2.6z" fill="#98a8b8" fill-opacity="0.7"/><path d="M39.6 14.2L43.4 17.8" stroke="#c8a018" stroke-width="3" stroke-linecap="butt"/></g>
<defs><linearGradient id="plus" x1="0" y1="0" x2="1" y2="1"><stop offset="0" stop-color="#50f050"/><stop offset="0.5" stop-color="#18d818"/><stop offset="1" stop-color="#0ca00c"/></linearGradient></defs>
<g><path d="M63.2 1.6h7.4l3.2 3.2v9.8h-10.6a0.8 0.8 0 0 1 -0.8 -0.8v-11.4a0.8 0.8 0 0 1 0.8 -0.8z" fill="#fff" stroke="#8c8c8c" stroke-width="1.1"/><path d="M70.6 1.6v3.2h3.2" fill="#f0f0f0" stroke="#8c8c8c" stroke-width="0.9"/><path d="M64.3 4.05h2.6" stroke="#8a8a8a" stroke-width="1.2"/><path d="M64.3 7.4h5M64.3 9.5h5M64.3 11.6h3" stroke="#8a8a8a" stroke-width="0.9"/><path d="M70.2 7.3h3.8v3.9h3.9v3.9h-3.9v3.6h-3.8v-3.6h-3.9v-3.9h3.9z" fill="url(#plus)" stroke="#0c8c0c" stroke-width="0.9"/></g>
<defs><linearGradient id="gold" x1="0.2" y1="0" x2="0.8" y2="1"><stop offset="0" stop-color="#f6d040"/><stop offset="0.45" stop-color="#fbe27c"/><stop offset="1" stop-color="#d89c10"/></linearGradient></defs>
<path d="M129 11L135.4 2L145 9.2L145 10.6L137 17.6L129 12.4Z" fill="#a06a10"/><path d="M129.4 10.9L135.5 2.5L144.5 9.3L137 16Z" fill="url(#gold)" stroke="#a87414" stroke-width="0.7" stroke-linejoin="round"/><path d="M137.2 16.8L144.6 10" stroke="#e8d090" stroke-width="0.6"/>
<defs><linearGradient id="cloud" x1="0" y1="0" x2="0" y2="1"><stop offset="0" stop-color="#ffffff"/><stop offset="1" stop-color="#bcc8e0"/></linearGradient></defs>
<g><path d="M159 2.2l3.2 -1h8v8.8h-11.2z" fill="#1a8cec"/><path d="M159 2.2l3.2 -1v8.8h-3.2z" fill="#14a4ff"/><path d="M164 5h4.7v1.5h-4.7z" fill="#e8f4ff"/><path d="M160.6 16.4a3.3 3.3 0 0 1 -0.4 -6.5a3.6 3.6 0 0 1 6.6 -0.8a3 3 0 0 1 4.8 2a2.7 2.7 0 0 1 -0.4 5.3z" fill="url(#cloud)" stroke="#5a78b4" stroke-width="1.1"/></g>
<g fill="none"><path d="M193 8.8V1.2A7.6 7.6 0 0 1 193.6 16.4z" fill="#9cc89c" fill-opacity="0.55"/><path d="M193 1.2a7.6 7.6 0 0 0 -3.6 14.2" stroke="#7a9ee4" stroke-width="1.1"/><path d="M193 3.5a5.3 5.3 0 0 0 -2.6 9.9" stroke="#5a82dc" stroke-width="1.1"/><path d="M193 5.8a3 3 0 0 0 -1.5 5.6" stroke="#4a72d4" stroke-width="1"/><path d="M193 1.2a7.6 7.6 0 0 1 0.6 15.2" stroke="#78aa88" stroke-width="1.1"/><path d="M193 3.5a5.3 5.3 0 0 1 1 10.5" stroke="#88b890" stroke-width="0.9"/><path d="M193.5 8.8v7.8" stroke="#22a022" stroke-width="1.9"/><circle cx="192.9" cy="8.6" r="2" fill="#2454cc"/></g>
<g><path d="M212.6 8.6h15l-2.6 4.8l-5.2 3.5l-3.4 -2.2z" fill="#f6dc50" stroke="#c89c14" stroke-width="0.8" stroke-linejoin="round"/><ellipse cx="220" cy="5.9" rx="8" ry="2.8" fill="#52a8dc" stroke="#2c84bc" stroke-width="0.7"/><path d="M216.2 5.4c0 -5.4 7.6 -5.4 7.6 0z" fill="#6cbce8" stroke="#2c84bc" stroke-width="0.7"/><circle cx="224.5" cy="12.7" r="4.2" fill="#e42c10" stroke="#b01c08" stroke-width="0.7"/><rect x="223.1" y="11.3" width="2.8" height="2.6" fill="#fff"/></g>
<text x="81" y="12.2" font-size="11.6" fill="#000" textLength="35" lengthAdjust="spacingAndGlyphs" style="font-family:'Liberation Sans','Noto Sans CJK SC',sans-serif">新订单</text>
<text x="235.2" y="12.2" font-size="11.6" fill="#000" textLength="45.2" lengthAdjust="spacingAndGlyphs" style="font-family:'Liberation Sans','Noto Sans CJK SC',sans-serif">自动交易</text>
<path d="M306.5 3v14M304 14.6h13.6" stroke="#505050" stroke-width="1.2" fill="none"/><path d="M306.5 1.6l-1.8 2.6h3.6zM318.4 14.6l-2.6 -1.8v3.6z" fill="#505050"/><path d="M313.4 5v6.8M313.4 5.4h2.4M310.4 11.4h3" stroke="#189018" stroke-width="1.4" fill="none"/>
<path d="M334.7 3v14M332.2 14.6h13.6" stroke="#505050" stroke-width="1.2" fill="none"/><path d="M334.7 1.6l-1.8 2.6h3.6zM346.59999999999997 14.6l-2.6 -1.8v3.6z" fill="#505050"/><path d="M340.6 1.2v11.4" stroke="#108010" stroke-width="1.2"/><rect x="338.4" y="3.4" width="4.4" height="7.2" fill="#34c834" stroke="#108010" stroke-width="0.9"/>
<path d="M362.5 3v14M360 14.6h13.6" stroke="#505050" stroke-width="1.2" fill="none"/><path d="M362.5 1.6l-1.8 2.6h3.6zM374.4 14.6l-2.6 -1.8v3.6z" fill="#505050"/><path d="M361 11.6C364 9 365.5 6 367.6 6.2C369.5 6.4 370.5 9 372.8 10.4" stroke="#189018" stroke-width="1.3" fill="none"/>
<path d="M402 11.2L407 16.2" stroke="#d0a020" stroke-width="2.6" stroke-linecap="round"/><circle cx="398" cy="7.1" r="5.2" fill="#d6eafa" stroke="#4a92dc" stroke-width="1.5"/><path d="M395 7.1h6M398 4.1v6" stroke="#3a7cd4" stroke-width="1.7" fill="none"/>
<path d="M429.9 11.2L434.9 16.2" stroke="#d0a020" stroke-width="2.6" stroke-linecap="round"/><circle cx="425.9" cy="7.1" r="5.2" fill="#d6eafa" stroke="#4a92dc" stroke-width="1.5"/><path d="M422.9 7.1h6" stroke="#3a7cd4" stroke-width="1.7" fill="none"/>
<g><rect x="448.2" y="1.4" width="7.6" height="7.2" fill="#4aa41e"/><rect x="456.4" y="1.4" width="7.6" height="7.2" fill="#2058c8"/><rect x="448.2" y="9.2" width="7.6" height="7.3" fill="#2058c8"/><rect x="456.4" y="9.2" width="7.6" height="7.3" fill="#4aa41e"/><path d="M449.6 4.6h4.8M449.6 6.6h4.8M457.8 4.6h4.8M457.8 6.6h4.8M449.6 12.4h4.8M449.6 14.4h4.8M457.8 12.4h4.8M457.8 14.4h4.8" stroke="#e8f4ff" stroke-width="1"/></g>
<path d="M486.5 3v14M484 14.6h13.6" stroke="#505050" stroke-width="1.2" fill="none"/><path d="M486.5 1.6l-1.8 2.6h3.6zM498.4 14.6l-2.6 -1.8v3.6z" fill="#505050"/><path d="M491.4 5.6L494.8 8.6L491.4 11.6Z" fill="#c8f0c8" stroke="#20a020" stroke-width="1.1"/>
<path d="M514.7 3v14M512.2 14.6h13.6" stroke="#505050" stroke-width="1.2" fill="none"/><path d="M514.7 1.6l-1.8 2.6h3.6zM526.6 14.6l-2.6 -1.8v3.6z" fill="#505050"/><path d="M520.4 2.8v10" stroke="#1a6ac0" stroke-width="1.3"/><path d="M526 8.4h-4" stroke="#d03010" stroke-width="1.1"/><path d="M521 8.4l2.4 -1.9v3.8z" fill="#d03010"/>
<g><path d="M545.2 1.6h7.4l3.4 3.4v9.2h-10.8z" fill="#fff" stroke="#8a8a8a" stroke-width="1"/><path d="M552.6 1.6v3.4h3.4" fill="#e8e8e8" stroke="#8a8a8a" stroke-width="0.8"/><path d="M550.6 4.6c-1.6 -0.4 -2 0.6 -2 2v5.4M547.4 8h2.8" stroke="#707070" stroke-width="1.1" fill="none"/><path d="M553.3 7.4h3.8v3.6h3.9v3.8h-3.9v3.7h-3.8v-3.7h-3.9v-3.8h3.9z" fill="#2fd12f" stroke="#0d8f0d" stroke-width="0.9"/></g>
<path d="M567 8h5.2l-2.6 3z" fill="#000"/>
<path d="M606.2 8h5.2l-2.6 3z" fill="#000"/>
<path d="M645 8h5.2l-2.6 3z" fill="#000"/>
<path d="M950.8 8h5.2l-2.6 3z" fill="#000"/>
<defs><linearGradient id="clk" x1="0" y1="0" x2="0" y2="1"><stop offset="0" stop-color="#3a98f8"/><stop offset="1" stop-color="#0a48a8"/></linearGradient></defs>
<g><circle cx="591" cy="9" r="6.9" fill="#f0f0f2" stroke="url(#clk)" stroke-width="2.4"/><path d="M591 9.2L590.2 5.8M591 9.2L593.6 8.8" stroke="#202020" stroke-width="1.1" fill="none"/><path d="M591 4v1M591 13v1M586 9h1M595 9h1" stroke="#a0a8b8" stroke-width="0.8"/></g>
<g><rect x="622.4" y="2.4" width="15.4" height="13" fill="#fff" stroke="#3a7cd8" stroke-width="1.1"/><rect x="622.4" y="2.4" width="15.4" height="2" fill="#5a96e4"/><path d="M623 10h14.4" stroke="#8ab0e8" stroke-width="0.9"/><path d="M624.4 8.2l2.6 -0.8l2 -0.8l2.6 0.6l3 -1.6" stroke="#a02010" stroke-width="1.2" fill="none"/><path d="M624.4 13.4l2.6 -0.4l2 -1l2.4 0.8l2 -1.4l2 1.6" stroke="#189018" stroke-width="1.2" fill="none"/></g>
<path d="M673.6 2.2v11.6l2.8 -2.6l2.5 5l2 -1l-2.4 -4.8h4.2z" fill="#505050"/>
<path d="M699 9.2h6.2M707.6 9.2h6.4M706.4 2v6M706.4 10.4v6.6" stroke="#505050" stroke-width="1.1"/>
<path d="M740.6 3v13M762.8 9.2h12.2M791 15.9L803 4" stroke="#505050" stroke-width="1.2" fill="none"/>
<g stroke="#505050" fill="none"><path d="M817.6 11.2L829.6 1.8M819.6 15L831.6 5.6" stroke-width="1.1"/><path d="M820.6 9v5.4M823.4 6.8v5.4M826.2 4.6v5.4M829 2.4v5.4" stroke-width="0.9"/></g>
<text x="827.6" y="18" font-size="6.4" font-weight="bold" fill="#505050">E</text>
<path d="M846 2.5h13M846 5.4h13M846 9.3h13M846 13.7h9" stroke="#505050" stroke-width="1" stroke-dasharray="1 1" shape-rendering="crispEdges"/>
<text x="855.8" y="18" font-size="6.4" font-weight="bold" fill="#505050">F</text>
<text x="880.4" y="13.8" font-size="11.4" fill="#505050" text-anchor="middle">A</text>
<rect x="903" y="3.4" width="12" height="12.4" fill="none" stroke="#505050" stroke-width="1" stroke-dasharray="1 1" shape-rendering="crispEdges"/>
<text x="909" y="13.6" font-size="10.6" font-weight="bold" fill="#505050" text-anchor="middle">T</text>
<path d="M933.8 2.8l2.8 2.8l-2.8 2.6l-2.8 -2.6zM940.6 10.4l2.8 2.6l-2.8 2.8l-2.8 -2.8z" fill="#505050"/><path d="M933 9.6l2 2l3.4 -3.6" stroke="#505050" stroke-width="1.3" fill="none"/>
<text x="977.9" y="12.5" font-size="9.6" fill="#4a4a4a" textLength="12.1" lengthAdjust="spacingAndGlyphs">M1</text>
<text x="1005.5" y="12.5" font-size="9.6" fill="#4a4a4a" textLength="12.5" lengthAdjust="spacingAndGlyphs">M5</text>
<text x="1031.8" y="12.5" font-size="9.6" fill="#4a4a4a" textLength="17.3" lengthAdjust="spacingAndGlyphs">M15</text>
<text x="1059.6" y="12.5" font-size="9.6" fill="#4a4a4a" textLength="17.6" lengthAdjust="spacingAndGlyphs">M30</text>
<text x="1090.6" y="12.5" font-size="9.6" fill="#4a4a4a" textLength="11.7" lengthAdjust="spacingAndGlyphs">H1</text>
<text x="1117.5" y="12.5" font-size="9.6" fill="#4a4a4a" textLength="12.2" lengthAdjust="spacingAndGlyphs">H4</text>
<text x="1146.6" y="12.5" font-size="9.6" fill="#4a4a4a" textLength="11.4" lengthAdjust="spacingAndGlyphs">D1</text>
<text x="1174.2" y="12.5" font-size="9.6" fill="#4a4a4a" textLength="14.2" lengthAdjust="spacingAndGlyphs">W1</text>
<text x="1200.8" y="12.5" font-size="9.6" fill="#4a4a4a" textLength="14.4" lengthAdjust="spacingAndGlyphs">MN</text>
<path d="M1690.8 9.4L1686.6 13.4" stroke="#2a62cc" stroke-width="2.6" stroke-linecap="round"/><circle cx="1693.5" cy="6.4" r="3.9" fill="#fafaff" stroke="#2a66d8" stroke-width="1.15"/>
<defs><linearGradient id="bub" x1="0" y1="0" x2="0" y2="1"><stop offset="0" stop-color="#ffffff"/><stop offset="1" stop-color="#d8d8e2"/></linearGradient></defs>
<g><ellipse cx="1726.2" cy="6.2" rx="6.4" ry="4.6" fill="url(#bub)" stroke="#8a8a8a" stroke-width="1.1"/><path d="M1728.6 10.4l1 2.6l-3 -2.2z" fill="#707070"/><ellipse cx="1717.3" cy="10.6" rx="5" ry="3.9" fill="url(#bub)" stroke="#8a8a8a" stroke-width="1.1"/><path d="M1715.4 14l-0.8 2.2l2.8 -2z" fill="#707070"/></g>
</g>
</svg>
</body></html>
